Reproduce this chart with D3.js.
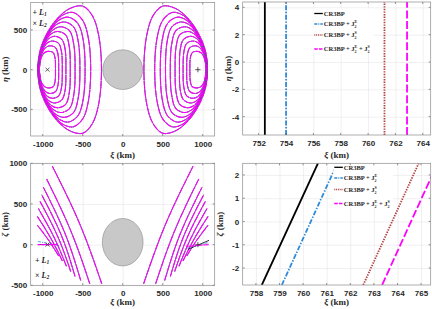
<!DOCTYPE html>
<html>
<head>
<meta charset="utf-8">
<script src="https://cdn.jsdelivr.net/npm/d3@7"></script>
<style>
  body { margin: 0; background: #fff; }
  svg { display: block; font-family: "Liberation Serif", "Times New Roman", serif; font-weight: bold; }
</style>
</head>
<body>
<svg id="fig" width="432" height="309"></svg>
<script>
// force models, drawn in this order (last one on top)
const modelColors = ["#000000", "#2f8ad8", "#b5403f", "#ff00ff"];
const modelDashBig = [null, "5,1.6,1.4,1.6", "1.4,1.2", "8,2.6"];
const modelDashSmall = [null, "3,1,1,1", "1,1", "8,0.8"];
const modelWidthSmall = [0.45, 0.7, 0.5, 1.1];
const drawOrder = [0, 2, 1, 3];
const legendParts = [
  ["CR3BP"],
  ["CR3BP + J", ["2", "E"]],
  ["CR3BP + J", ["2", "S"]],
  ["CR3BP + J", ["2", "E"], " + J", ["2", "S"]]
];

// L1-side halo family (positive xi), upper half in the xi-eta plane, km
const haloXiEta = [
  [[265, 0], [300, 430], [380, 680], [500, 800], [660, 770], [820, 640], [950, 450], [1035, 230], [1060, 0]],
  [[400, 0], [430, 400], [500, 620], [620, 720], [760, 680], [890, 530], [990, 330], [1045, 150], [1058, 0]],
  [[470, 0], [495, 380], [560, 580], [680, 660], [800, 620], [910, 490], [1000, 310], [1045, 140], [1056, 0]],
  [[535, 0], [555, 350], [615, 540], [730, 600], [840, 560], [935, 440], [1010, 280], [1045, 130], [1054, 0]],
  [[595, 0], [612, 320], [665, 490], [775, 540], [870, 500], [950, 400], [1015, 260], [1043, 120], [1052, 0]],
  [[655, 0], [668, 290], [715, 440], [815, 480], [900, 445], [965, 360], [1018, 235], [1041, 110], [1050, 0]],
  [[710, 0], [720, 260], [760, 380], [850, 420], [925, 390], [980, 315], [1020, 210], [1040, 100], [1048, 0]],
  [[755, 0], [765, 225], [800, 330], [880, 360], [945, 335], [990, 270], [1022, 185], [1038, 90], [1046, 0]],
  [[800, 0], [808, 190], [838, 275], [905, 300], [960, 280], [1000, 225], [1025, 155], [1037, 75], [1044, 0]],
  [[840, 0], [846, 150], [870, 215], [930, 230], [975, 215], [1008, 175], [1027, 120], [1036, 60], [1042, 0]]
];

// same family seen in the xi-zeta plane (thin arcs), km: bottom, middle, top
const haloXiZeta = [
  [[262, -480], [535, 250], [879, 963]],
  [[412, -480], [645, 160], [950, 806]],
  [[525, -440], [718, 130], [991, 704]],
  [[596, -390], [765, 110], [1012, 612]],
  [[650, -330], [812, 100], [1033, 531]],
  [[704, -265], [858, 90], [1054, 444]],
  [[754, -200], [895, 73], [1066, 346]],
  [[800, -140], [922, 49], [1066, 238]]
];
// smallest orbits near the libration points, one per model
const lowRight = [
  [[816, -58], [1079, 53]],
  [[808, -45], [1075, 30]],
  [[800, -30], [1075, 10]],
  [[790, -20], [1075, 0]]
];
const lowLeft = [
  [[-812, 2], [-1062, 2]],
  [[-800, -10], [-1062, 40]],
  [[-812, 0], [-1062, 0]],
  [[-812, 0], [-1062, 0]]
];
const libXi = [940, -940];   // L1 (+), L2 (x)
const bodyXiEta = [250, 250];          // semi-axes seen from above
const bodyXiZeta = [255, 292, 30];     // semi-axes and centre offset seen from the side

// close-up of the libration point
const closeXi = [752.45, 754.0, 761.2, 762.85];
const closeXiZeta = [
  [[758.25, -2.73], [760.63, 2.5]],
  [[759.1, -2.73], [761.45, 2.5]],
  [[762.55, -2.73], [764.9, 2.5]],
  [[763.35, -2.73], [765.7, 2.5]]
];

// axes ticks
const bigXiTicks = [-1000, -500, 0, 500, 1000];
const etaTicks = [-500, 0, 500];
const zetaTicks = [-500, 0, 500, 1000];
const closeXiTicks = [752, 754, 756, 758, 760, 762, 764];
const closeEtaTicks = [-4, -2, 0, 2, 4];
const closeXi2Ticks = [758, 759, 760, 761, 762, 763, 764, 765];
const closeZetaTicks = [-2, -1, 0, 1, 2];

const svg = d3.select("#fig");
const defs = svg.append("defs");
let clipId = 0;

function panel(o) {
  const x = d3.scaleLinear().domain(o.xd).range(o.xr);
  const y = d3.scaleLinear().domain(o.yd).range([o.yr[1], o.yr[0]]);
  const w = o.xr[1] - o.xr[0], h = o.yr[1] - o.yr[0];
  const g = svg.append("g");
  // grid
  g.append("g").attr("transform", `translate(0,${o.yr[1]})`)
    .call(d3.axisBottom(x).tickValues(o.xt).tickSize(-h).tickPadding(5).tickFormat(d => String(d)))
    .call(a => a.select(".domain").remove())
    .call(a => a.selectAll("line").attr("stroke", "#e6e6e6").attr("stroke-width", 0.6))
    .call(a => a.selectAll("text").attr("font-size", 8).attr("fill", "#262626").attr("font-family", null));
  g.append("g").attr("transform", `translate(${o.xr[0]},0)`)
    .call(d3.axisLeft(y).tickValues(o.yt).tickSize(-w).tickPadding(3.5).tickFormat(d => String(d)))
    .call(a => a.select(".domain").remove())
    .call(a => a.selectAll("line").attr("stroke", "#e6e6e6").attr("stroke-width", 0.6))
    .call(a => a.selectAll("text").attr("font-size", 8).attr("fill", "#262626").attr("font-family", null));
  const id = "clip" + (clipId++);
  defs.append("clipPath").attr("id", id).append("rect")
    .attr("x", o.xr[0]).attr("y", o.yr[0]).attr("width", w).attr("height", h);
  const plot = g.append("g").attr("clip-path", `url(#${id})`);
  const frame = () => {
    // inward ticks + box
    o.xt.forEach(t => {
      g.append("line").attr("x1", x(t)).attr("x2", x(t)).attr("y1", o.yr[1]).attr("y2", o.yr[1] - 2).attr("stroke", "#262626").attr("stroke-width", 0.5);
      g.append("line").attr("x1", x(t)).attr("x2", x(t)).attr("y1", o.yr[0]).attr("y2", o.yr[0] + 2).attr("stroke", "#262626").attr("stroke-width", 0.5);
    });
    o.yt.forEach(t => {
      g.append("line").attr("x1", o.xr[0]).attr("x2", o.xr[0] + 2).attr("y1", y(t)).attr("y2", y(t)).attr("stroke", "#262626").attr("stroke-width", 0.5);
      g.append("line").attr("x1", o.xr[1]).attr("x2", o.xr[1] - 2).attr("y1", y(t)).attr("y2", y(t)).attr("stroke", "#262626").attr("stroke-width", 0.5);
    });
    g.append("rect").attr("x", o.xr[0]).attr("y", o.yr[0]).attr("width", w).attr("height", h)
      .attr("fill", "none").attr("stroke", "#8c8c8c").attr("stroke-width", 0.7);
  };
  // axis titles
  const xl = g.append("text").attr("x", (o.xr[0] + o.xr[1]) / 2).attr("y", o.xlabY)
    .attr("text-anchor", "middle").attr("font-size", 9).attr("fill", "#262626");
  xl.append("tspan").attr("font-style", "italic").text("ξ");
  xl.append("tspan").text(" (km)");
  const yl = g.append("text").attr("transform", `translate(${o.ylabX},${(o.yr[0] + o.yr[1]) / 2}) rotate(-90)`)
    .attr("text-anchor", "middle").attr("font-size", 9).attr("fill", "#262626");
  yl.append("tspan").attr("font-style", "italic").text(o.yname);
  yl.append("tspan").text(" (km)");
  return { x, y, plot, g, frame };
}

function richText(t, parts, fs) {
  let shift = 0;
  parts.forEach(p => {
    if (typeof p === "string") {
      t.append("tspan").attr("dy", -shift).text(p);
      shift = 0;
    } else {
      t.append("tspan").attr("dy", 0.3 * fs).attr("font-size", 0.62 * fs).text(p[0]);
      t.append("tspan").attr("dx", -0.31 * fs).attr("dy", -0.78 * fs).attr("font-size", 0.62 * fs).text(p[1]);
      shift = -0.48 * fs;
    }
  });
}

function legend(g, x0, ys, fs) {
  const last = ys[ys.length - 1];
  g.append("rect").attr("x", x0 - 1).attr("y", ys[0] - 5).attr("width", 60).attr("height", last - ys[0] + 9).attr("fill", "#fff");
  ys.forEach((yy, i) => {
    g.append("line").attr("x1", x0).attr("x2", x0 + 8.5).attr("y1", yy).attr("y2", yy)
      .attr("stroke", modelColors[i]).attr("stroke-width", 1.3)
      .attr("stroke-dasharray", [null, "3,1,1,1", "1,0.8", "3.5,1.2"][i]);
    const t = g.append("text").attr("x", x0 + 9.5).attr("y", yy + 2.2).attr("font-size", fs).attr("fill", "#262626");
    richText(t, legendParts[i], fs);
  });
}

function libLabels(g, x0, y1, y2) {
  [["+ ", "1", y1], ["× ", "2", y2]].forEach(([m, s, yy]) => {
    const t = g.append("text").attr("x", x0).attr("y", yy).attr("font-size", 8).attr("fill", "#262626");
    t.append("tspan").text(m);
    t.append("tspan").attr("font-style", "italic").text("L");
    t.append("tspan").attr("font-size", 5.5).attr("dy", 1.8).attr("font-style", "italic").text(s);
  });
}

function marker(plot, px, py, kind) {
  const s = 2.6;
  const d = kind === "+" ? `M${px - s},${py}H${px + s}M${px},${py - s}V${py + s}`
                         : `M${px - s * 0.75},${py - s * 0.75}L${px + s * 0.75},${py + s * 0.75}M${px - s * 0.75},${py + s * 0.75}L${px + s * 0.75},${py - s * 0.75}`;
  plot.append("path").attr("d", d).attr("stroke", "#333").attr("stroke-width", 0.8).attr("fill", "none");
}

function styled(plot, d, i, wdt, dashes) {
  plot.append("path").attr("d", d).attr("fill", "none").attr("stroke", modelColors[i])
    .attr("stroke-width", wdt).attr("stroke-dasharray", dashes[i]);
}

// ---------- top left: xi-eta ----------
{
  const P = panel({ xr: [30.7, 214.7], yr: [2.5, 136], xd: [-1150, 1150], yd: [-835, 845],
    xt: bigXiTicks, yt: etaTicks, xlabY: 157.5, ylabX: 8, yname: "η" });
  const { x, y, plot } = P;
  plot.append("ellipse").attr("cx", x(0)).attr("cy", y(0))
    .attr("rx", x(bodyXiEta[0]) - x(0)).attr("ry", y(0) - y(bodyXiEta[1]))
    .attr("fill", "#c8c8c8").attr("stroke", "#7a7a7a").attr("stroke-width", 0.5);
  const line = d3.line().x(d => x(d[0])).y(d => y(d[1])).curve(d3.curveCatmullRomClosed.alpha(0.5));
  [1, -1].forEach(side => {
    haloXiEta.forEach(up => {
      const lower = up.slice(1, -1).reverse().map(d => [d[0], -d[1]]);
      const pts = up.concat(lower).map(d => [side * d[0], d[1]]);
      drawOrder.forEach(i => styled(plot, line(pts), i, modelWidthSmall[i], modelDashSmall));
    });
  });
  marker(plot, x(libXi[0]), y(0), "+");
  marker(plot, x(libXi[1]), y(0), "x");
  libLabels(P.g, 32.5, 14.5, 25.5);
  P.frame();
}

// ---------- bottom left: xi-zeta ----------
{
  const P = panel({ xr: [30.7, 214.7], yr: [163.3, 285.3], xd: [-1150, 1150], yd: [-500, 1000],
    xt: bigXiTicks, yt: zetaTicks, xlabY: 304.5, ylabX: 8, yname: "ζ" });
  const { x, y, plot } = P;
  plot.append("ellipse").attr("cx", x(0)).attr("cy", y(bodyXiZeta[2]))
    .attr("rx", x(bodyXiZeta[0]) - x(0)).attr("ry", y(0) - y(bodyXiZeta[1]))
    .attr("fill", "#c8c8c8").attr("stroke", "#7a7a7a").attr("stroke-width", 0.5);
  const line = d3.line().x(d => x(d[0])).y(d => y(d[1])).curve(d3.curveNatural);
  [1, -1].forEach(side => {
    haloXiZeta.forEach(arc => {
      const pts = arc.map(d => [side * d[0], d[1]]);
      drawOrder.forEach(i => styled(plot, line(pts), i, modelWidthSmall[i], modelDashSmall));
    });
  });
  [lowRight, lowLeft].forEach(set => drawOrder.forEach(i => styled(plot, line(set[i]), i, Math.max(modelWidthSmall[i], 0.8), modelDashSmall)));
  marker(plot, x(libXi[0]), y(0), "+");
  marker(plot, x(libXi[1]), y(0), "x");
  libLabels(P.g, 35, 262.5, 277.5);
  P.frame();
}

// ---------- top right: close-up xi-eta ----------
{
  const P = panel({ xr: [242.7, 430.7], yr: [2, 135], xd: [750.83, 764.58], yd: [-5.34, 4.39],
    xt: closeXiTicks, yt: closeEtaTicks, xlabY: 157.5, ylabX: 231, yname: "η" });
  const { x, y, plot } = P;
  closeXi.forEach((v, i) => {
    plot.append("line").attr("x1", x(v)).attr("x2", x(v)).attr("y1", y(-5.34)).attr("y2", y(4.39))
      .attr("stroke", modelColors[i]).attr("stroke-width", 1.8).attr("stroke-dasharray", modelDashBig[i]);
  });
  legend(P.g, 314.3, [13.5, 24, 35, 49], 6.5);
  P.frame();
}

// ---------- bottom right: close-up xi-zeta ----------
{
  const P = panel({ xr: [242.7, 430.7], yr: [163.3, 285], xd: [757.44, 765.41], yd: [-2.73, 2.5],
    xt: closeXi2Ticks, yt: closeZetaTicks, xlabY: 304.5, ylabX: 223, yname: "ζ" });
  const { x, y, plot } = P;
  const line = d3.line().x(d => x(d[0])).y(d => y(d[1]));
  closeXiZeta.forEach((seg, i) => styled(plot, line(seg), i, 1.8, modelDashBig));
  legend(P.g, 334.3, [167.3, 178, 189.5, 203.5], 6.5);
  P.frame();
}
</script>
</body>
</html>
